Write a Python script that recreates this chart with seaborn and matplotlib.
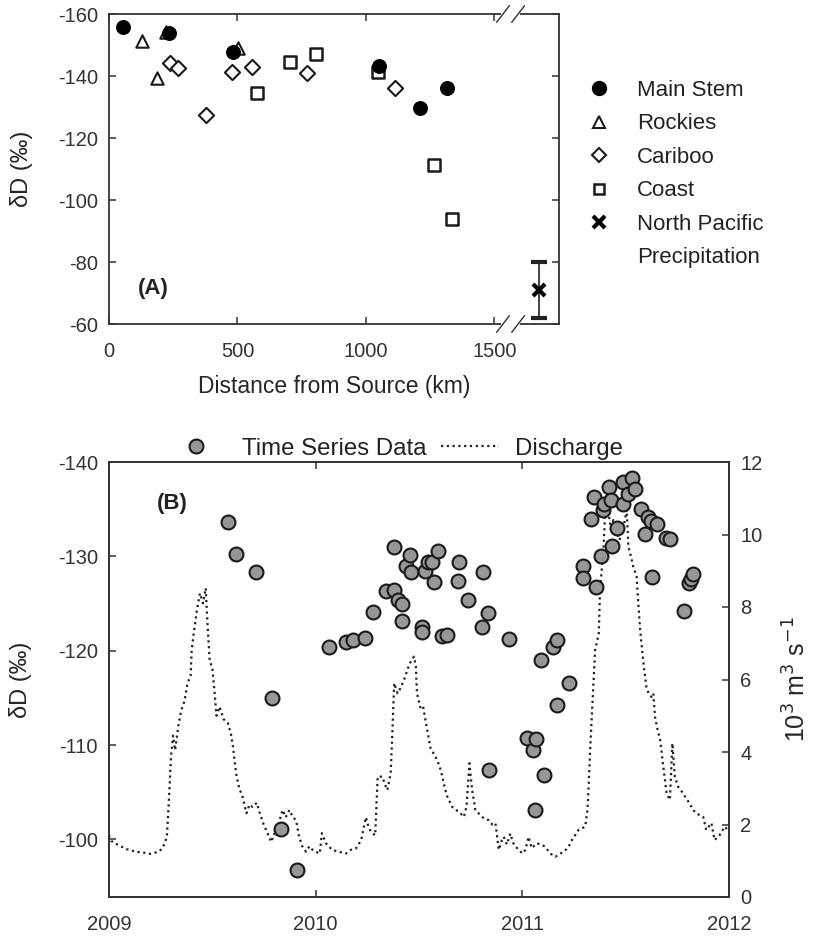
import numpy as np
import pandas as pd
import matplotlib
matplotlib.use("Agg")
import matplotlib.pyplot as plt
from matplotlib.lines import Line2D
import seaborn as sns

# ---- Panel A: dD along the river (distance from source, km) ----
main_x = [53, 233, 483, 1051, 1211, 1315]
main_y = [-155.9, -153.8, -147.8, -143.3, -129.7, -136.1]
rock_x = [129, 187, 222, 502]
rock_y = [-151.4, -139.3, -154.3, -148.9]
carib_x = [238, 268, 378, 480, 557, 771, 1111]
carib_y = [-144.1, -142.7, -127.4, -141.4, -142.8, -141.1, -136.2]
coast_x = [576, 706, 805, 1046, 1264, 1334]
coast_y = [-134.6, -144.6, -147.1, -141.4, -111.2, -93.9]
npac_x = [1675]
npac_y = [-71.0]
npac_err = [9.0]

# ---- Panel B: time series (decimal year) ----
ts_year = [2009.574, 2009.614, 2009.710, 2009.790, 2009.830, 2009.911,
           2010.066, 2010.145, 2010.182, 2010.238, 2010.279, 2010.340,
           2010.380, 2010.380, 2010.400, 2010.420, 2010.420, 2010.437,
           2010.456, 2010.460, 2010.516, 2010.516, 2010.530, 2010.545,
           2010.564, 2010.572, 2010.593, 2010.610, 2010.634, 2010.690,
           2010.695, 2010.735, 2010.803, 2010.810, 2010.835, 2010.840,
           2010.937, 2011.024, 2011.053, 2011.063, 2011.064, 2011.089,
           2011.104, 2011.147, 2011.166, 2011.166, 2011.227, 2011.295,
           2011.295, 2011.332, 2011.348, 2011.355, 2011.379, 2011.392,
           2011.395, 2011.419, 2011.427, 2011.435, 2011.456, 2011.485,
           2011.488, 2011.512, 2011.529, 2011.545, 2011.572, 2011.593,
           2011.609, 2011.622, 2011.625, 2011.650, 2011.695, 2011.714,
           2011.783, 2011.807, 2011.814, 2011.827]
ts_dD = [-133.6, -130.3, -128.3, -115.0, -101.1, -96.8,
         -120.4, -120.9, -121.1, -121.3, -124.1, -126.3,
         -126.4, -131.0, -125.4, -125.0, -123.2, -129.0,
         -130.1, -128.3, -122.5, -122.0, -128.4, -129.4,
         -129.4, -127.3, -130.6, -121.6, -121.7, -127.4,
         -129.4, -125.4, -122.5, -128.3, -124.0, -107.4,
         -121.2, -110.8, -109.5, -103.1, -110.6, -119.0,
         -106.8, -120.4, -121.1, -114.2, -116.6, -129.0,
         -127.7, -134.0, -136.3, -126.8, -130.0, -134.9,
         -135.6, -137.3, -136.0, -131.1, -133.0, -137.9,
         -135.5, -136.6, -138.3, -137.1, -135.0, -132.4,
         -134.2, -133.7, -127.8, -133.4, -131.9, -131.8,
         -124.2, -127.2, -127.6, -128.1]

q_year = [2009.00, 2009.01, 2009.04, 2009.085, 2009.13, 2009.17, 2009.20, 2009.24,
          2009.26, 2009.28, 2009.29, 2009.30, 2009.31, 2009.32, 2009.335, 2009.35,
          2009.365, 2009.38, 2009.395, 2009.40, 2009.41, 2009.425, 2009.44, 2009.455,
          2009.468, 2009.475, 2009.487, 2009.50, 2009.51, 2009.52, 2009.535, 2009.555,
          2009.575, 2009.59, 2009.60, 2009.615, 2009.63, 2009.646, 2009.665, 2009.68,
          2009.695, 2009.715, 2009.73, 2009.745, 2009.76, 2009.785, 2009.80, 2009.81,
          2009.825, 2009.84, 2009.855, 2009.873, 2009.89, 2009.905, 2009.92, 2009.935,
          2009.953, 2009.97, 2009.985, 2010.00, 2010.02, 2010.03, 2010.05, 2010.08,
          2010.11, 2010.147, 2010.17, 2010.195, 2010.22, 2010.243, 2010.255, 2010.267,
          2010.288, 2010.30, 2010.323, 2010.335, 2010.347, 2010.363, 2010.371, 2010.38,
          2010.396, 2010.41, 2010.428, 2010.44, 2010.452, 2010.465, 2010.476, 2010.485,
          2010.49, 2010.508, 2010.52, 2010.54, 2010.556, 2010.58, 2010.60, 2010.613,
          2010.625, 2010.637, 2010.66, 2010.68, 2010.693, 2010.717, 2010.73, 2010.744,
          2010.757, 2010.773, 2010.79, 2010.805, 2010.82, 2010.838, 2010.855, 2010.87,
          2010.886, 2010.90, 2010.91, 2010.925, 2010.942, 2010.955, 2010.966, 2010.985,
          2010.999, 2011.015, 2011.03, 2011.045, 2011.07, 2011.09, 2011.11, 2011.135,
          2011.16, 2011.185, 2011.21, 2011.225, 2011.24, 2011.255, 2011.272, 2011.29,
          2011.304, 2011.315, 2011.32, 2011.328, 2011.34, 2011.352, 2011.37, 2011.376,
          2011.392, 2011.40, 2011.417, 2011.43, 2011.44, 2011.457, 2011.47, 2011.49,
          2011.505, 2011.513, 2011.526, 2011.537, 2011.553, 2011.56, 2011.57, 2011.586,
          2011.60, 2011.612, 2011.625, 2011.634, 2011.642, 2011.655, 2011.667, 2011.682,
          2011.698, 2011.714, 2011.726, 2011.738, 2011.754, 2011.778, 2011.795, 2011.81,
          2011.826, 2011.842, 2011.86, 2011.875, 2011.89, 2011.915, 2011.93, 2011.955,
          2011.98, 2012.00]
q_val = [1.70, 1.55, 1.45, 1.32, 1.25, 1.22, 1.19, 1.25,
         1.35, 1.66, 2.68, 3.87, 4.45, 4.05, 4.70, 5.16,
         5.40, 5.90, 6.10, 6.80, 7.28, 7.90, 8.38, 8.10,
         8.52, 7.70, 6.54, 6.30, 5.70, 5.00, 5.25, 4.90,
         4.80, 4.50, 4.14, 3.40, 3.00, 2.77, 2.31, 2.55,
         2.48, 2.60, 2.31, 2.05, 1.85, 1.52, 1.75, 1.66,
         2.10, 2.40, 2.20, 2.40, 2.20, 2.12, 1.66, 1.40,
         1.25, 1.40, 1.30, 1.25, 1.20, 1.76, 1.48, 1.30,
         1.25, 1.20, 1.30, 1.34, 1.57, 2.20, 1.95, 1.80,
         1.70, 3.32, 3.32, 3.10, 2.95, 3.42, 4.52, 5.90,
         5.62, 5.76, 6.00, 6.20, 6.40, 6.55, 6.63, 6.35,
         5.62, 5.20, 5.25, 4.60, 4.10, 3.87, 3.60, 3.32,
         3.00, 2.77, 2.49, 2.40, 2.35, 2.21, 2.50, 3.69,
         2.95, 2.40, 2.30, 2.21, 2.15, 2.12, 2.00, 2.04,
         1.30, 1.55, 1.66, 1.45, 1.75, 1.50, 1.39, 1.30,
         1.20, 1.30, 1.66, 1.35, 1.48, 1.45, 1.39, 1.20,
         1.11, 1.20, 1.30, 1.40, 1.57, 1.70, 1.85, 1.90,
         1.94, 2.40, 2.95, 4.05, 5.43, 6.80, 7.28, 8.47,
         9.57, 10.49, 10.60, 10.10, 10.40, 10.04, 9.85, 10.21,
         10.68, 9.66, 9.39, 9.11, 8.84, 8.19, 7.37, 6.45,
         5.80, 5.60, 5.52, 5.62, 4.97, 4.60, 4.33, 3.60,
         2.86, 2.68, 4.24, 3.32, 3.04, 2.86, 2.70, 2.58,
         2.40, 2.31, 2.25, 2.21, 1.85, 2.04, 1.57, 1.71,
         1.94, 1.80]

sns.set_style("ticks")
plt.rcParams['font.family'] = ['Liberation Sans', 'DejaVu Sans']
plt.rcParams['axes.unicode_minus'] = False
plt.rcParams['axes.edgecolor'] = '#333333'
plt.rcParams['axes.linewidth'] = 1.3
plt.rcParams['xtick.color'] = '#333333'
plt.rcParams['ytick.color'] = '#333333'
plt.rcParams['text.color'] = '#222222'

W, H = 817, 940
fig = plt.figure(figsize=(W / 100, H / 100), dpi=100)
axA = fig.add_axes([109 / W, 1 - 324 / H, 450 / W, 310 / H])
axB = fig.add_axes([109 / W, 1 - 897 / H, 620 / W, 435 / H])

edge = '#1a1a1a'
# Panel A
sns.scatterplot(x=main_x, y=main_y, ax=axA, marker='o', s=95, color='black',
                edgecolor='black', linewidth=1, zorder=4)
sns.scatterplot(x=rock_x, y=rock_y, ax=axA, marker='^', s=80, color='white',
                edgecolor=edge, linewidth=1.5, zorder=3)
sns.scatterplot(x=carib_x, y=carib_y, ax=axA, marker='D', s=60, color='white',
                edgecolor=edge, linewidth=1.5, zorder=3)
sns.scatterplot(x=coast_x, y=coast_y, ax=axA, marker='s', s=70, color='white',
                edgecolor=edge, linewidth=1.8, zorder=3)
axA.errorbar(npac_x, npac_y, yerr=npac_err, fmt='x', color='black', ms=9, mew=3,
             ecolor='#222222', elinewidth=1.2, capsize=6, capthick=1.2, zorder=5)

axA.set_xlim(0, 1751)
axA.set_ylim(-60, -160)
axA.set_xticks([0, 500, 1000, 1500])
axA.set_yticks([-160, -140, -120, -100, -80, -60])
axA.tick_params(direction='in', top=True, right=True, length=5, width=1.1,
                labelsize=14.5)
axA.tick_params(axis='x', pad=13)
axA.tick_params(axis='y', pad=8)
axA.set_xlabel('Distance from Source (km)', fontsize=16.5, labelpad=10)
axA.set_ylabel('δD (‰)', fontsize=17)
axA.yaxis.set_label_coords(-0.17, 0.5)
axA.text(0.065, 0.115, '(A)', transform=axA.transAxes, fontsize=16,
         fontweight='bold', ha='left', va='center')

# axis break marks
trans = axA.get_xaxis_transform()
for yy in (0, 1):
    axA.plot([1535, 1590], [yy, yy], color='white', lw=3, transform=trans,
             clip_on=False, zorder=6)
    for xc in (1533, 1592):
        axA.plot([xc - 25, xc + 25], [yy - 0.027, yy + 0.027], color='#333333',
                 lw=1.0, transform=trans, clip_on=False, zorder=7)

hA = [Line2D([], [], ls='none', marker='o', ms=10, color='black'),
      Line2D([], [], ls='none', marker='^', ms=8, mfc='white', mec=edge, mew=1.5),
      Line2D([], [], ls='none', marker='D', ms=7, mfc='white', mec=edge, mew=1.5),
      Line2D([], [], ls='none', marker='s', ms=7.5, mfc='white', mec=edge, mew=1.8),
      Line2D([], [], ls='none', marker='x', ms=8, mew=3, color='black'),
      Line2D([], [], ls='none')]
lA = ['Main Stem', 'Rockies', 'Cariboo', 'Coast', 'North Pacific', 'Precipitation']
fig.legend(hA, lA, loc='upper left', bbox_to_anchor=(588 / W, 1 - 80 / H),
           frameon=False, fontsize=16, handlelength=1.0, handletextpad=1.2,
           labelspacing=0.56, borderpad=0, borderaxespad=0)

# Panel B
axQ = axB.twinx()
sns.lineplot(x=q_year, y=q_val, ax=axQ, color='#222222', lw=1.6,
             linestyle=(0, (1, 1.6)), zorder=1)
axQ.set_ylim(0, 12)
axQ.set_yticks([0, 2, 4, 6, 8, 10, 12])
axQ.tick_params(direction='in', length=5, width=1.1, labelsize=14.5, pad=8)
axQ.set_ylabel('10$^3$ m$^3$ s$^{-1}$', fontsize=18)
axQ.yaxis.set_label_coords(1.088, 0.5)

axB.set_zorder(axQ.get_zorder() + 1)
axB.patch.set_visible(False)
sns.scatterplot(x=ts_year, y=ts_dD, ax=axB, marker='o', s=100, color='#979797',
                edgecolor=edge, linewidth=1.5, zorder=4)
axB.set_xlim(2009, 2012)
axB.set_ylim(-93.9, -140)
axB.set_xticks([2009, 2010, 2011, 2012])
axB.set_xticklabels(['2009', '2010', '2011', '2012'])
axB.set_yticks([-140, -130, -120, -110, -100])
axB.tick_params(direction='in', top=True, length=5, width=1.1, labelsize=14.5)
axB.tick_params(axis='x', pad=13)
axB.tick_params(axis='y', pad=8)
axB.set_ylabel('δD (‰)', fontsize=17)
axB.yaxis.set_label_coords(-0.124, 0.5)
axB.text(0.077, 0.905, '(B)', transform=axB.transAxes, fontsize=16,
         fontweight='bold', ha='left', va='center')

hB = [Line2D([], [], ls='none', marker='o', ms=10, mfc='#979797', mec=edge, mew=1.5),
      Line2D([], [], color='#222222', lw=1.6, linestyle=(0, (1, 1.6)))]
axB.legend(hB, ['Time Series Data', 'Discharge'], loc='lower center',
           bbox_to_anchor=(0.462, 1.005), ncol=2, frameon=False, fontsize=17.3,
           handlelength=2.4, handletextpad=0.7, columnspacing=0.6,
           borderpad=0, borderaxespad=0)

fig.savefig('out.png', dpi=100)
